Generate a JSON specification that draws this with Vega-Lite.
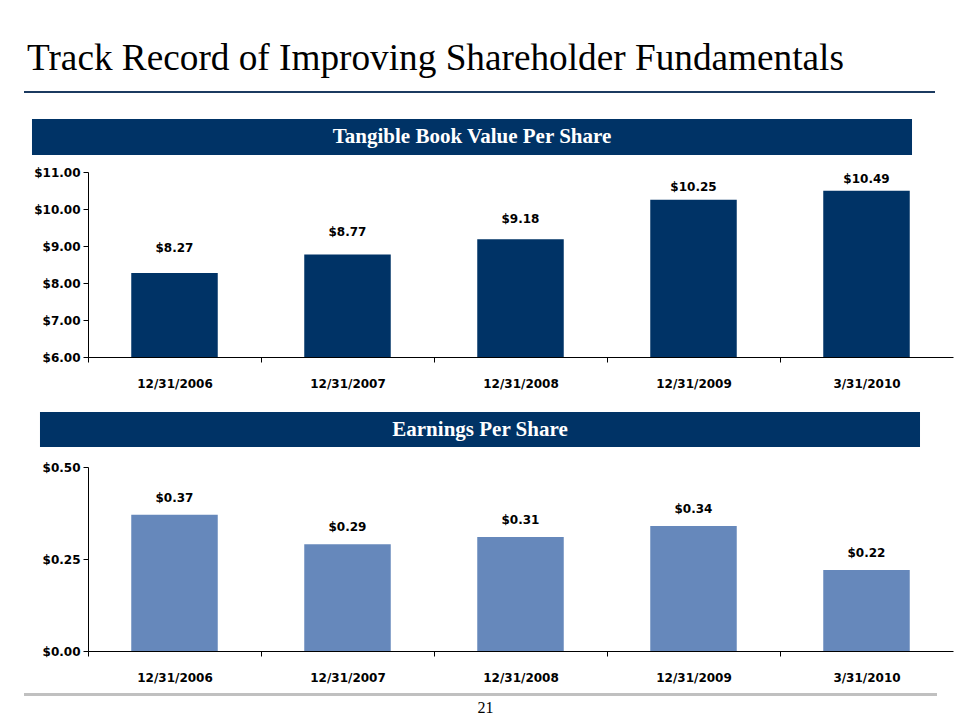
{
  "$schema": "https://vega.github.io/schema/vega-lite/v6.json",
  "background": "white",
  "padding": {"left": 24, "top": 39, "right": 5, "bottom": 0},
  "config": {"view": {"stroke": null}, "font": "DejaVu Sans"},
  "datasets": {
    "tbv": [
      {"date": "12/31/2006", "value": 8.27},
      {"date": "12/31/2007", "value": 8.77},
      {"date": "12/31/2008", "value": 9.18},
      {"date": "12/31/2009", "value": 10.25},
      {"date": "3/31/2010", "value": 10.49}
    ],
    "eps": [
      {"date": "12/31/2006", "value": 0.37},
      {"date": "12/31/2007", "value": 0.29},
      {"date": "12/31/2008", "value": 0.31},
      {"date": "12/31/2009", "value": 0.34},
      {"date": "3/31/2010", "value": 0.22}
    ]
  },
  "spacing": 26,
  "vconcat": [
    {
      "width": 911,
      "height": 2,
      "data": {"values": [{}]},
      "mark": {"type": "rect", "color": "#1B3A60"},
      "encoding": {},
      "title": {
        "text": "Track Record of Improving Shareholder Fundamentals",
        "anchor": "start",
        "font": "Liberation Serif",
        "fontSize": 37.25,
        "fontWeight": "normal",
        "color": "black",
        "baseline": "alphabetic",
        "dx": 3,
        "offset": -16
      }
    },
    {
      "spacing": 23,
      "vconcat": [
        {
          "spacing": 11,
          "vconcat": [
            {
              "width": 911,
              "height": 36,
              "data": {"values": [{"panel": "Tangible Book Value Per Share"}]},
              "encoding": {
                "x": {"field": "panel", "type": "nominal", "scale": {"paddingInner": 0, "paddingOuter": 0.0176, "align": 0.258}, "axis": null}
              },
              "layer": [
                {"mark": {"type": "bar", "color": "#003366"}},
                {"mark": {"type": "text", "color": "white", "font": "Liberation Serif", "fontWeight": "bold", "fontSize": 21}, "encoding": {"text": {"field": "panel"}}}
              ]
            },
            {
              "width": 929,
              "height": 185,
              "data": {"name": "tbv"},
              "resolve": {"scale": {"y": "independent"}},
              "layer": [
                {
                  "mark": {"type": "bar", "color": "#003366", "clip": true},
                  "encoding": {
                    "x": {"field": "date", "type": "ordinal", "sort": null,
                      "scale": {"range": [64, 929], "paddingInner": 0.5, "paddingOuter": 0.25},
                      "axis": {"title": null, "labelAngle": 0, "labelFont": "DejaVu Sans", "labelFontWeight": "bold", "labelFontSize": 12, "labelColor": "black", "labelPadding": 16, "tickSize": 5, "tickColor": "black", "domainColor": "black", "tickOffset": -86.5, "labelOffset": 86.5, "grid": false}},
                    "y": {"field": "value", "type": "quantitative",
                      "scale": {"domain": [6, 11], "zero": false, "nice": false},
                      "axis": {"title": null, "values": [6, 7, 8, 9, 10, 11], "format": "$.2f", "offset": -64, "labelFont": "DejaVu Sans", "labelFontWeight": "bold", "labelFontSize": 12, "labelColor": "black", "labelPadding": 3, "tickSize": 5, "tickColor": "black", "domainColor": "black", "grid": false}}
                  }
                },
                {
                  "mark": {"type": "text", "baseline": "alphabetic", "font": "DejaVu Sans", "fontWeight": "bold", "fontSize": 12, "color": "black"},
                  "encoding": {
                    "x": {"field": "date", "type": "ordinal", "sort": null},
                    "y": {"field": "value", "type": "quantitative", "scale": {"domain": [4.85, 10.85], "zero": false, "nice": false}, "axis": null},
                    "text": {"field": "value", "format": "$.2f"}
                  }
                }
              ]
            }
          ]
        },
        {
          "spacing": 14,
          "vconcat": [
            {
              "width": 911,
              "height": 35,
              "data": {"values": [{"panel": "Earnings Per Share"}]},
              "encoding": {
                "x": {"field": "panel", "type": "nominal", "scale": {"paddingInner": 0, "paddingOuter": 0.0176, "align": 0.516}, "axis": null}
              },
              "layer": [
                {"mark": {"type": "bar", "color": "#003366"}},
                {"mark": {"type": "text", "color": "white", "font": "Liberation Serif", "fontWeight": "bold", "fontSize": 21}, "encoding": {"text": {"field": "panel"}}}
              ]
            },
            {
              "spacing": 10,
              "vconcat": [
                {
                  "width": 929,
                  "height": 184,
                  "data": {"name": "eps"},
                  "encoding": {
                    "x": {"field": "date", "type": "ordinal", "sort": null,
                      "scale": {"range": [64, 929], "paddingInner": 0.5, "paddingOuter": 0.25},
                      "axis": {"title": null, "labelAngle": 0, "labelFont": "DejaVu Sans", "labelFontWeight": "bold", "labelFontSize": 12, "labelColor": "black", "labelPadding": 16, "tickSize": 5, "tickColor": "black", "domainColor": "black", "tickOffset": -86.5, "labelOffset": 86.5, "grid": false}},
                    "y": {"field": "value", "type": "quantitative",
                      "scale": {"domain": [0, 0.5], "nice": false},
                      "axis": {"title": null, "values": [0, 0.25, 0.5], "format": "$.2f", "offset": -64, "labelFont": "DejaVu Sans", "labelFontWeight": "bold", "labelFontSize": 12, "labelColor": "black", "labelPadding": 3, "tickSize": 5, "tickColor": "black", "domainColor": "black", "grid": false}}
                  },
                  "layer": [
                    {"mark": {"type": "bar", "color": "#6688BB"}},
                    {
                      "mark": {"type": "text", "baseline": "alphabetic", "dy": -13, "font": "DejaVu Sans", "fontWeight": "bold", "fontSize": 12, "color": "black"},
                      "encoding": {"text": {"field": "value", "format": "$.2f"}}
                    }
                  ]
                },
                {
                  "width": 913,
                  "height": 3,
                  "data": {"values": [{}]},
                  "mark": {"type": "rect", "color": "#C0C0C0"},
                  "encoding": {},
                  "title": {
                    "text": "21",
                    "orient": "bottom",
                    "anchor": "middle",
                    "font": "Liberation Serif",
                    "fontSize": 16,
                    "fontWeight": "normal",
                    "color": "black",
                    "baseline": "top",
                    "dx": 5,
                    "offset": 4
                  }
                }
              ]
            }
          ]
        }
      ]
    }
  ]
}
